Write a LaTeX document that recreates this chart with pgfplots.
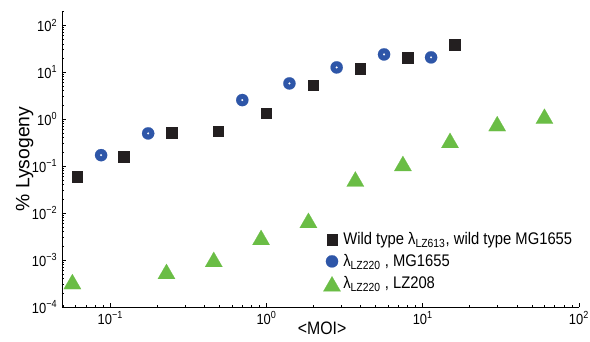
\documentclass[border=0pt]{standalone}
\usepackage{fontspec}
\setmainfont{Liberation Sans}
\newfontfamily\narrowfont{Liberation Sans}[FakeStretch=0.88]
\usepackage{pgfplots}
\pgfplotsset{compat=1.18}
\definecolor{sqblack}{HTML}{231F20}
\definecolor{cblue}{HTML}{2E56A8}
\definecolor{tgreen}{HTML}{6ABD45}
\pgfplotsset{
  mylegA/.style={legend image code/.code={\draw[mark repeat=2,mark phase=2,##1] plot coordinates {(0cm,0cm) (0.18cm,0cm) (0.36cm,0cm)};}},
  mylegB/.style={legend image code/.code={\draw[mark repeat=2,mark phase=2,##1] plot coordinates {(0cm,-0.08cm) (0.18cm,-0.08cm) (0.36cm,-0.08cm)};}},
}
\begin{document}
\begin{tikzpicture}
\begin{axis}[
  name=ax,
  scale only axis, width=387.75pt, height=222pt,
  xmode=log, ymode=log,
  xmin=0.049, xmax=100, ymin=1e-4, ymax=200,
  axis x line=bottom, axis y line=left,
  axis line style={-, line width=0.6pt, black},
  tick align=inside,
  major tick length=3pt, minor tick length=1.8pt,
  tick style={black, line width=0.5pt},
  xtick={0.1,1,10,100},
  xticklabels={10\textsuperscript{−1},10\textsuperscript{0},10\textsuperscript{1},10\textsuperscript{2}},
  minor xtick={0.05,0.06,0.07,0.08,0.09,0.2,0.3,0.4,0.5,0.6,0.7,0.8,0.9,2,3,4,5,6,7,8,9,20,30,40,50,60,70,80,90},
  ytick={1e-4,1e-3,1e-2,1e-1,1,10,100},
  yticklabels={10\textsuperscript{−4},10\textsuperscript{−3},10\textsuperscript{−2},10\textsuperscript{−1},10\textsuperscript{0},10\textsuperscript{1},10\textsuperscript{2}},
  minor ytick={2e-4,3e-4,4e-4,5e-4,6e-4,7e-4,8e-4,9e-4,2e-3,3e-3,4e-3,5e-3,6e-3,7e-3,8e-3,9e-3,0.02,0.03,0.04,0.05,0.06,0.07,0.08,0.09,0.2,0.3,0.4,0.5,0.6,0.7,0.8,0.9,2,3,4,5,6,7,8,9,20,30,40,50,60,70,80,90,200},
  ticklabel style={font=\narrowfont\fontsize{11}{13}\selectfont},
  xlabel={<MOI>},
  ylabel={\% Lysogeny},
  xlabel style={font=\narrowfont\fontsize{13.5}{15}\selectfont, at={(axis description cs:0.503,-0.071)}, anchor=center},
  ylabel style={font=\fontsize{14.5}{16}\selectfont, at={(axis description cs:-0.072,0.5)}, anchor=center},
  legend style={draw=none, fill=none, font=\narrowfont\fontsize{12.6}{14}\selectfont,
    at={(0.505,0.262)}, anchor=north west, row sep=1.8pt, inner sep=0pt},
  legend cell align=left,
]
\addplot[only marks, mark=square*, mark size=4.0pt, mark options={fill=sqblack, draw=sqblack, line width=0.1pt}, mylegA]
  coordinates {(0.0612,0.0592) (0.1217,0.158) (0.246,0.511) (0.490,0.556) (0.993,1.34) (1.98,5.29) (3.96,12.0) (7.98,20.1) (16.0,38.1)};
\addlegendentry{Wild type λ\textsubscript{LZ613}, wild type MG1655}
\addplot[only marks, mark=*, mark size=4.6pt, mark options={fill=cblue, draw=cblue, line width=0.1pt}, mylegA]
  coordinates {(0.0872,0.171) (0.1745,0.496) (0.699,2.54) (1.40,5.75) (2.81,12.6) (5.65,23.8) (11.3,20.6)};
\addlegendentry{λ\textsubscript{LZ220} , MG1655}
\addplot[only marks, mark=triangle*, mark size=7.5pt, mark options={fill=tgreen, draw=tgreen, line width=0.1pt}, mylegB]
  coordinates {(0.0571,3.08e-4) (0.2286,5.07e-4) (0.459,9.14e-4) (0.922,2.68e-3) (1.853,6.21e-3) (3.70,0.0471) (7.46,0.1007) (14.94,0.3125) (29.95,0.708) (60.1,1.022)};
\addlegendentry{λ\textsubscript{LZ220} , LZ208}
\addplot[only marks, mark=*, mark size=0.7pt, mark options={fill=white, draw=white, line width=0.1pt}, forget plot]
  coordinates {(0.0872,0.171) (0.1745,0.496) (0.699,2.54) (1.40,5.75) (2.81,12.6) (5.65,23.8) (11.3,20.6)};
\end{axis}
\pgfresetboundingbox
\path ([shift={(-46.5pt,-25.5pt)}]ax.south west) rectangle ([shift={(8.25pt,8.25pt)}]ax.north east);
\end{tikzpicture}
\end{document}
